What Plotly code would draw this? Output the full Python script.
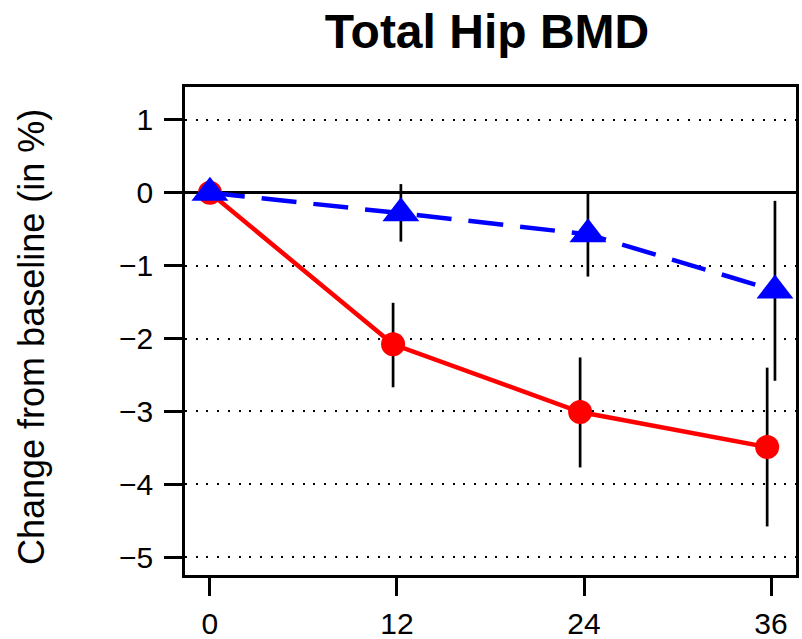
import plotly.graph_objects as go

# Months since baseline
months = [0, 12, 24, 36]

# Mean percent change from baseline with 95% CI bounds
red_mean = [0.0, -2.08, -3.01, -3.49]
red_upper = [0.0, -1.51, -2.26, -2.40]
red_lower = [0.0, -2.67, -3.77, -4.58]

blue_mean = [0.0, -0.28, -0.57, -1.34]
blue_upper = [0.0, 0.12, 0.00, -0.11]
blue_lower = [0.0, -0.67, -1.15, -2.58]

y_ticks = [1, 0, -1, -2, -3, -4, -5]
x_ticks = [0, 12, 24, 36]

FONT = "Liberation Sans, Arial, Helvetica, sans-serif"
DODGE = 0.25  # horizontal offset so the two groups' error bars don't overlap


def dodged(xs, sign):
    return [x + sign * DODGE if x > 0 else x for x in xs]


def err(mean, upper, lower):
    plus = [u - m for m, u in zip(mean, upper)]
    minus = [m - l for m, l in zip(mean, lower)]
    return dict(type="data", symmetric=False, array=plus, arrayminus=minus,
                color="black", thickness=2.7, width=0)


fig = go.Figure()

fig.add_trace(go.Scatter(
    x=dodged(months, -1), y=red_mean, name="Arm A",
    mode="lines+markers",
    line=dict(color="#ff0000", width=4.5),
    marker=dict(symbol="circle", size=24, color="#ff0000"),
    error_y=err(red_mean, red_upper, red_lower),
    showlegend=False,
))

fig.add_trace(go.Scatter(
    x=dodged(months, 1), y=blue_mean, name="Arm B",
    mode="lines+markers",
    line=dict(color="#0000ff", width=4.5, dash="35px,17px"),
    marker=dict(symbol="triangle-up", size=32, color="#0000ff"),
    error_y=err(blue_mean, blue_upper, blue_lower),
    showlegend=False,
))

fig.update_layout(
    width=802, height=639,
    margin=dict(l=185, r=6, t=87, b=64),
    paper_bgcolor="white", plot_bgcolor="white",
    font=dict(family=FONT, color="black"),
    title=dict(text="<b>Total Hip BMD</b>", font=dict(size=48, family=FONT, color="black"),
               x=487 / 802, xref="container", xanchor="center",
               y=1 - 31 / 639, yref="container", yanchor="middle"),
    annotations=[dict(
        text="Change from baseline (in %)", textangle=-90,
        xref="paper", yref="paper", x=(31 - 185) / 611, y=(575 - 337) / 488,
        xanchor="center", yanchor="middle", showarrow=False,
        font=dict(size=36, family=FONT, color="black"),
    )],
)

fig.update_xaxes(
    range=[-1.6, 37.6], tickvals=x_ticks, ticktext=[str(v) for v in x_ticks],
    showgrid=False, zeroline=False, automargin=False,
    showline=True, linecolor="black", linewidth=2.5, mirror=True,
    ticks="outside", ticklen=18, tickwidth=2.5, tickcolor="black",
    tickfont=dict(size=30, family=FONT, color="black"),
    ticklabelstandoff=2,
)

fig.update_yaxes(
    range=[-5.247, 1.453], tickvals=y_ticks,
    showgrid=True, gridcolor="black", gridwidth=2, griddash="2px,8.7px",
    zeroline=True, zerolinecolor="black", zerolinewidth=2.5, automargin=False,
    showline=True, linecolor="black", linewidth=2.5, mirror=True,
    ticks="outside", ticklen=18, tickwidth=2.5, tickcolor="black",
    tickfont=dict(size=30, family=FONT, color="black"),
    ticklabelstandoff=5,
)

fig.write_html("out.html")
